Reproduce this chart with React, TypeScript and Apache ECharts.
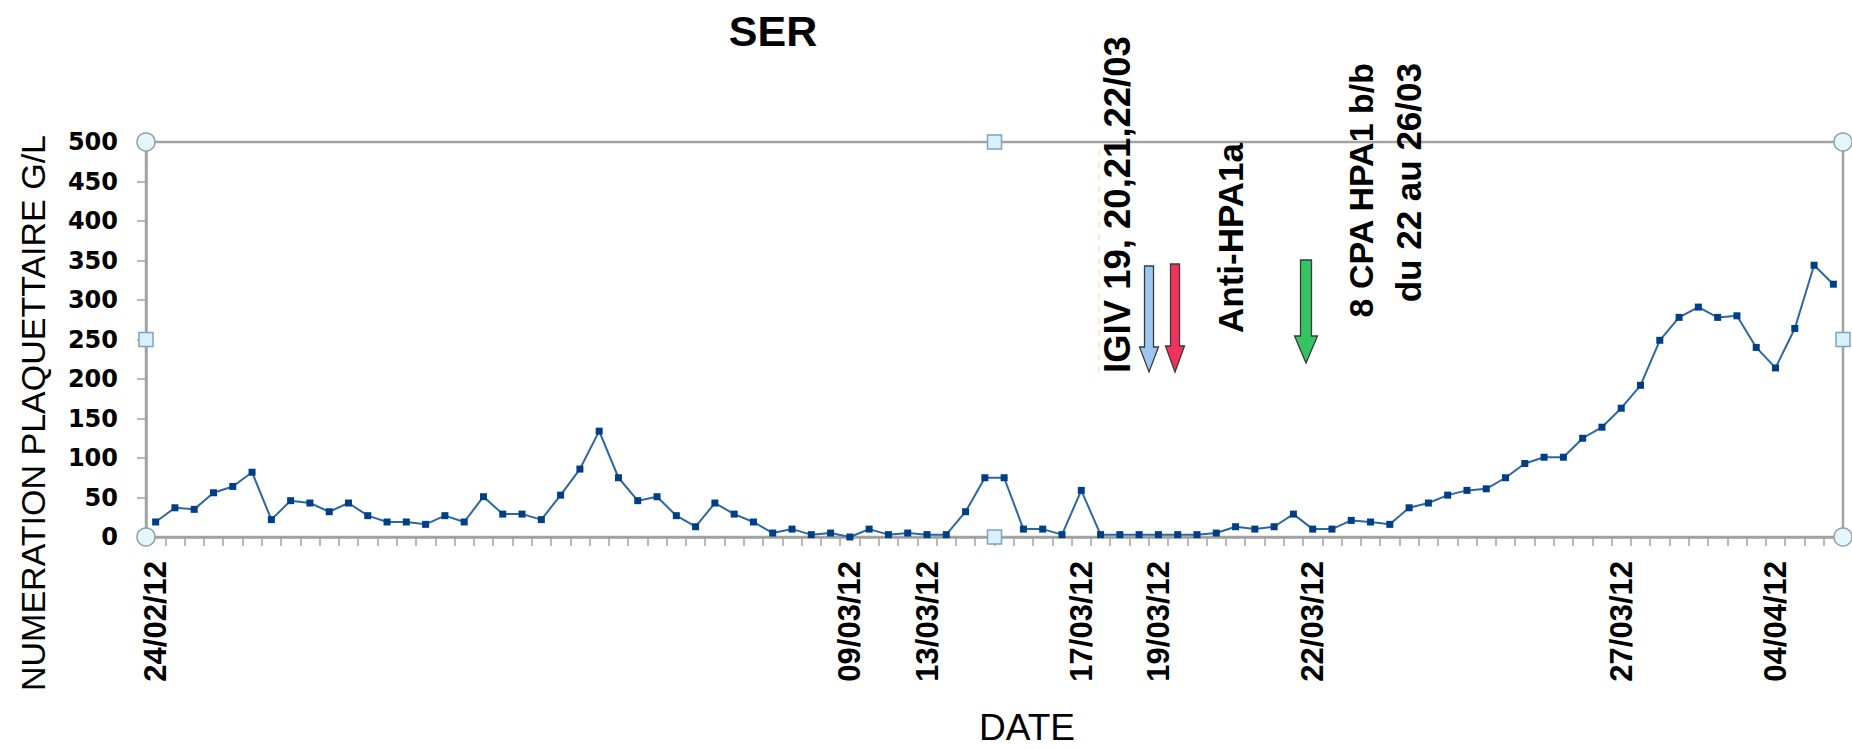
import React, { useEffect, useRef } from "react";
import * as echarts from "echarts";

const plateletCounts = [
  19, 37, 35, 56, 64, 82, 22, 46, 43, 32,
  43, 27, 19, 19, 16, 27, 19, 51, 29, 29,
  22, 53, 86, 134, 75, 46, 51, 27, 13, 43,
  29, 19, 5, 10, 3, 5, 0, 10, 3, 5,
  3, 3, 32, 75, 75, 10, 10, 3, 59, 3,
  3, 3, 3, 3, 3, 5, 13, 10, 13, 29,
  10, 10, 21, 19, 16, 37, 43, 53, 59, 61,
  75, 93, 101, 101, 125, 139, 163, 192, 249, 278,
  291, 278, 280, 240, 214, 264, 344, 320,
];

// Date labels shown on the category axis (index of measurement -> label)
const dateLabelIndex = [0, 36, 40, 48, 52, 60, 76, 84];
const dateLabelText = [
  "24/02/12", "09/03/12", "13/03/12", "17/03/12",
  "19/03/12", "22/03/12", "27/03/12", "04/04/12",
];

const yMin = 0;
const yMax = 500;
const yInterval = 50;

const chartTitle = "SER";
const yAxisTitle = "NUMERATION PLAQUETTAIRE G/L";
const xAxisTitle = "DATE";

const annotationTexts = [
  "IGIV 19, 20,21,22/03",
  "Anti-HPA1a",
  "8 CPA HPA1 b/b",
  "du 22 au 26/03",
];

// layout (pixels)
const W = 1852;
const H = 749;
const GL = 146;
const GR = 1843;
const GT = 142;
const GB = 537;

function arrowPoints(cx: number, top: number, tip: number, shaftW: number, headW: number, headH: number) {
  const hy = tip - headH;
  return [
    [cx - shaftW / 2, top],
    [cx + shaftW / 2, top],
    [cx + shaftW / 2, hy],
    [cx + headW / 2, hy],
    [cx, tip],
    [cx - headW / 2, hy],
    [cx - shaftW / 2, hy],
  ];
}

export default function App() {
  const ref = useRef<HTMLDivElement>(null);

  useEffect(() => {
    if (!ref.current) return;
    const chart = echarts.init(ref.current, undefined, { renderer: "svg" });

    const labelMap: Record<number, string> = {};
    dateLabelIndex.forEach((idx, k) => (labelMap[idx] = dateLabelText[k]));
    const categories = plateletCounts.map((_, i) => labelMap[i] ?? "");

    const gray = "#a3a3a3";
    const handleStroke = "#8d9fae";
    const circleFill = "#e4f6f8";
    const squareFill = "#d9f1fa";
    const midX = (GL + GR) / 2;
    const midY = (GT + GB) / 2;

    const handles: any[] = [];
    [[GL, GT], [GR, GT], [GL, GB], [GR, GB]].forEach(([x, y]) =>
      handles.push({
        type: "circle",
        shape: { cx: x, cy: y, r: 9 },
        style: { fill: circleFill, stroke: handleStroke, lineWidth: 1.5 },
        z: 100,
      })
    );
    [[GL, midY], [GR, midY], [midX, GT], [midX, GB]].forEach(([x, y]) =>
      handles.push({
        type: "rect",
        shape: { x: x - 7, y: y - 7, width: 14, height: 14 },
        style: { fill: squareFill, stroke: "#7ea4bf", lineWidth: 1.5 },
        z: 100,
      })
    );

    const arrowStroke = "#3a3a3a";
    const arrows = [
      { pts: arrowPoints(1149, 266, 372, 9, 19, 25), fill: "#9dc6f2" },
      { pts: arrowPoints(1175, 264, 372, 9, 19, 26), fill: "#f2325c" },
      { pts: arrowPoints(1306, 260, 363, 11, 23, 27), fill: "#35c463" },
    ].map((a) => ({
      type: "polygon",
      shape: { points: a.pts },
      style: { fill: a.fill, stroke: arrowStroke, lineWidth: 1.3 },
      z: 50,
    }));

    const annFont = "Liberation Sans, Arial, sans-serif";
    const vText = (text: string, x: number, y: number, size: number, align: string, weight = "bold") => ({
      type: "text",
      x,
      y,
      rotation: Math.PI / 2,
      style: {
        text,
        fontSize: size,
        fontWeight: weight,
        fontFamily: annFont,
        fill: "#000",
        textAlign: align,
        textVerticalAlign: "middle",
      },
      z: 60,
    });

    const graphic: any[] = [
      ...handles,
      ...arrows,
      {
        type: "line",
        shape: { x1: 1099, y1: 150, x2: 1099, y2: 373 },
        style: { stroke: "#f2b35a", lineWidth: 1.2, lineDash: [6, 6], opacity: 0.45 },
        z: 40,
      },
      vText(annotationTexts[0], 1117, 373, 36.5, "left"),
      vText(annotationTexts[1], 1230, 333, 35, "left"),
      vText(annotationTexts[2], 1361, 63, 34, "right"),
      vText(annotationTexts[3], 1408, 63, 35, "right"),
      vText(yAxisTitle, 33, 413, 34, "center", "normal"),
      {
        type: "text",
        x: 773,
        y: 31,
        style: {
          text: chartTitle,
          fontSize: 43,
          fontWeight: "bold",
          fontFamily: annFont,
          fill: "#000",
          textAlign: "center",
          textVerticalAlign: "middle",
        },
      },
      {
        type: "text",
        x: 1027,
        y: 727,
        style: {
          text: xAxisTitle,
          fontSize: 37,
          fontWeight: "normal",
          fontFamily: annFont,
          fill: "#000",
          textAlign: "center",
          textVerticalAlign: "middle",
        },
      },
    ];

    chart.setOption({
      animation: false,
      backgroundColor: "#ffffff",
      grid: {
        left: GL,
        right: W - GR,
        top: GT,
        bottom: H - GB,
        show: true,
        borderColor: gray,
        borderWidth: 2.5,
        containLabel: false,
      },
      xAxis: {
        type: "category",
        data: categories,
        boundaryGap: true,
        axisLine: { show: true, lineStyle: { color: gray, width: 2.5 } },
        axisTick: { show: true, interval: 0, alignWithLabel: false, length: 9, lineStyle: { color: gray, width: 1.5 } },
        axisLabel: {
          show: true,
          interval: 0,
          rotate: 90,
          margin: 24,
          fontSize: 31,
          fontWeight: "bold",
          fontFamily: annFont,
          color: "#000",
        },
        splitLine: { show: false },
      },
      yAxis: {
        type: "value",
        min: yMin,
        max: yMax,
        interval: yInterval,
        axisLine: { show: true, lineStyle: { color: gray, width: 2.5 } },
        axisTick: { show: true, length: 9, lineStyle: { color: gray, width: 1.5 } },
        axisLabel: {
          margin: 28,
          fontSize: 24,
          fontWeight: "bold",
          fontFamily: "DejaVu Sans, sans-serif",
          color: "#000",
        },
        splitLine: { show: false },
      },
      series: [
        {
          type: "line",
          data: plateletCounts,
          symbol: "rect",
          symbolSize: 7,
          showSymbol: true,
          lineStyle: { color: "#2d67a3", width: 2 },
          itemStyle: { color: "#003f86" },
          z: 5,
        },
      ],
      graphic,
    });

    return () => chart.dispose();
  }, []);

  return (
    <div
      ref={ref}
      style={{ position: "absolute", left: 0, top: 0, width: W, height: H }}
    />
  );
}
